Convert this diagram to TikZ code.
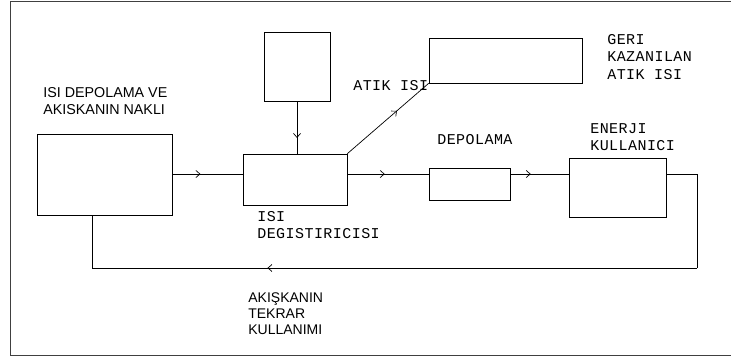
\documentclass[tikz,border=0pt]{standalone}
\usepackage{fontspec}
\setmainfont{Liberation Sans}
\newfontfamily\cadfont[LetterSpace=3]{Liberation Mono}
\usetikzlibrary{arrows.meta,decorations.markings}
\tikzset{
  blok/.style={draw, rectangle, inner sep=0pt, line width=0.7pt},
  etiket/.style={anchor=north west, inner sep=0pt, align=left},
  cad/.style={etiket, font=\cadfont\fontsize{15}{17.5}\selectfont},
  akis/.style={postaction={decorate}, decoration={markings,
    mark=at position #1 with {\arrow{Straight Barb[length=4pt,width=7pt]}}}},
}
\begin{document}
\begin{tikzpicture}[x=1pt,y=-1pt,line width=0.7pt]
  \useasboundingbox (0,0) rectangle (731,360);
  % Frame
  \draw[line width=1pt, black!75] (731,1) -- (10,1) -- (10,355) -- (731,355);
  % Boxes
  \node[blok, minimum width=135pt, minimum height=81pt] (depo) at (104.5,174.5) {};
  \node[blok, minimum width=66pt, minimum height=69pt] (kaynak) at (297,66.5) {};
  \node[blok, minimum width=104pt, minimum height=51pt] (esanjor) at (295,179.5) {};
  \node[blok, minimum width=153pt, minimum height=45pt] (geri) at (505.5,60.5) {};
  \node[blok, minimum width=81pt, minimum height=32pt] (tank) at (469.5,184) {};
  \node[blok, minimum width=97pt, minimum height=59pt] (enerji) at (617.5,187.5) {};
  % Flow line
  \coordinate (hat) at (0,174);
  \coordinate (sag) at (697,268);
  \coordinate (sol) at (92,268);
  \draw[akis=0.4] (depo.east |- hat) -- (esanjor.west |- hat);
  \draw[akis=0.46] (esanjor.east |- hat) -- (tank.west |- hat);
  \draw[akis=0.35] (tank.east |- hat) -- (enerji.west |- hat);
  \draw[akis=0.7] (kaynak.south) -- (kaynak.south |- esanjor.north);
  \draw[akis=0.61] (esanjor.north east) -- (geri.south west);
  % Return line
  \draw (enerji.east |- hat) -| (sag);
  \draw[akis=0.71] (sag) -- (sol);
  \draw (sol) -- (sol |- depo.south);
  % Labels
  \node[etiket, font=\fontsize{14.3}{17}\selectfont] (depoyazi) at (43,87) {ISI DEPOLAMA VE\\AKISKANIN NAKLI};
  \node[cad] (atikyazi) at (353,80) {ATIK ISI};
  \node[cad] (geriyazi) at (607,34) {GERI\\KAZANILAN\\ATIK ISI};
  \node[cad] (tankyazi) at (437,134) {DEPOLAMA};
  \node[cad] (enerjiyazi) at (590,123) {ENERJI\\KULLANICI};
  \node[cad] (esanjoryazi) at (257,211) {ISI\\DEGISTIRICISI};
  \node[etiket, font=\fontsize{14}{16}\selectfont] (donusyazi) at (248,292) {AKIŞKANIN\\TEKRAR\\KULLANIMI};
\end{tikzpicture}
\end{document}
